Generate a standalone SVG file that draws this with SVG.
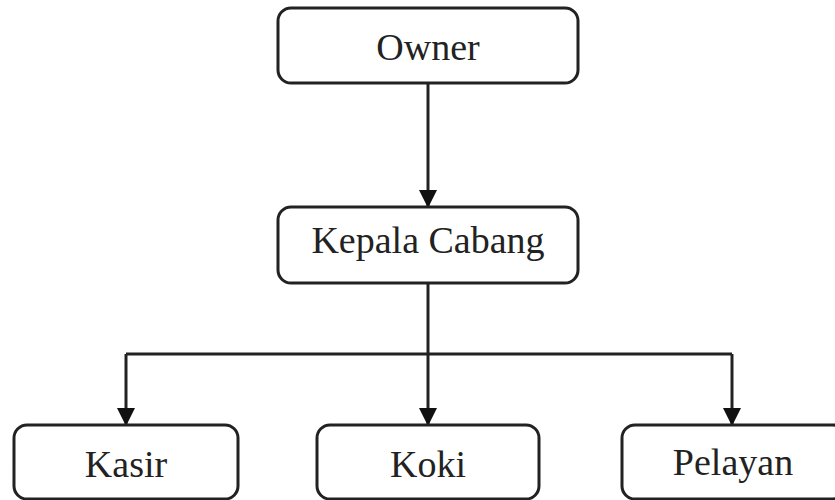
<svg xmlns="http://www.w3.org/2000/svg" width="835" height="500" viewBox="0 0 835 500">
<style>
.box{fill:#fff;stroke:#222;stroke-width:3}
.lbl{font-family:"Liberation Serif","Times New Roman",serif;font-size:38px;fill:#222;text-anchor:middle}
.con{fill:none;stroke:#222;stroke-width:3}
</style>
<defs>
<marker id="arr" markerUnits="userSpaceOnUse" markerWidth="18" markerHeight="21" refX="17" refY="9" orient="auto" viewBox="0 0 18 18">
<path d="M0,0 L18,9 L0,18 Z" fill="#111"/>
</marker>
</defs>
<g id="connectors">
<path class="con" d="M428,83 V207" marker-end="url(#arr)"/>
<path class="con" d="M428,283 V425" marker-end="url(#arr)"/>
<path class="con" d="M126,354 H732"/>
<path class="con" d="M126,354 V425" marker-end="url(#arr)"/>
<path class="con" d="M732,354 V425" marker-end="url(#arr)"/>
</g>
<g id="owner"><rect class="box" x="278" y="8" width="300" height="75" rx="13"/><text class="lbl" x="428" y="60">Owner</text></g>
<g id="kepala"><rect class="box" x="278" y="207" width="300" height="76" rx="13"/><text class="lbl" x="428" y="253">Kepala Cabang</text></g>
<g id="kasir"><rect class="box" x="14" y="425" width="224" height="74" rx="13"/><text class="lbl" x="126" y="477">Kasir</text></g>
<g id="koki"><rect class="box" x="317" y="425" width="222" height="74" rx="13"/><text class="lbl" x="428" y="477">Koki</text></g>
<g id="pelayan"><rect class="box" x="622" y="425" width="224" height="74" rx="13"/><text class="lbl" x="733" y="475">Pelayan</text></g>
</svg>
